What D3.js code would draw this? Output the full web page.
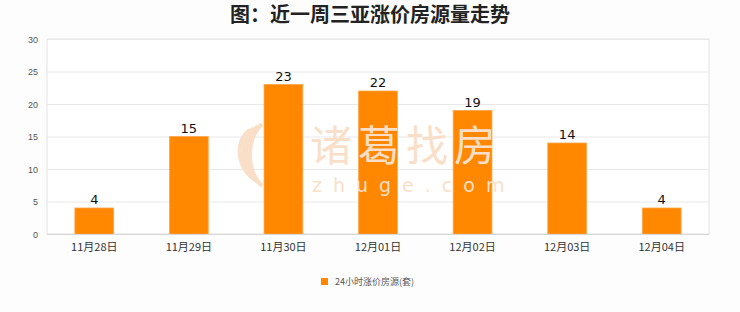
<!DOCTYPE html>
<html>
<head>
<meta charset="utf-8">
<script src="https://cdn.jsdelivr.net/npm/d3@7"></script>
<style>
  body { margin: 0; background: #fff; }
  svg { display: block; }
</style>
</head>
<body>
<svg id="chart" width="740" height="312"></svg>
<script>
// --- data ---
const dates = ["11月28日", "11月29日", "11月30日", "12月01日", "12月02日", "12月03日", "12月04日"];
const counts = [4, 15, 23, 22, 19, 14, 4];
const yTicks = [0, 5, 10, 15, 20, 25, 30];
const seriesName = "24小时涨价房源(套)";
const title = "图：近一周三亚涨价房源量走势";

const svg = d3.select("#chart");
const margin = { left: 47, right: 31, top: 39, bottom: 78 };
const W = 740, H = 312;
const plotW = W - margin.left - margin.right;
const plotH = H - margin.top - margin.bottom;
const cjk = "'Noto Sans CJK SC', 'Noto Sans', sans-serif";

svg.append("rect").attr("width", W).attr("height", H).attr("fill", "#fdfdfd");

// title
svg.append("text")
    .attr("x", 370).attr("y", 22)
    .attr("text-anchor", "middle")
    .attr("font-family", cjk)
    .attr("font-weight", "bold")
    .attr("font-size", 20)
    .attr("fill", "#222")
    .text(title);

const g = svg.append("g").attr("transform", `translate(${margin.left},${margin.top})`);

const x = d3.scaleBand().domain(dates).range([0, plotW]).paddingInner(0.59).paddingOuter(0.295);
const y = d3.scaleLinear().domain([0, 30]).range([plotH, 0]);

// plot frame
g.append("rect")
    .attr("width", plotW).attr("height", plotH)
    .attr("fill", "#fff")
    .attr("stroke", "#e3e3e3");

// gridlines
g.selectAll(".grid").data(yTicks).join("line")
    .attr("x1", 0).attr("x2", plotW)
    .attr("y1", d => y(d) + 0.5).attr("y2", d => y(d) + 0.5)
    .attr("stroke", "#e8e8e8");

// watermark (sits behind the bars)
const wm = svg.append("g").attr("fill", "#fadfc8");
wm.append("text")
    .attr("x", 310).attr("y", 161)
    .attr("font-family", cjk)
    .attr("font-size", 42)
    .attr("letter-spacing", 6)
    .text("诸葛找房");
wm.append("text")
    .attr("x", 312).attr("y", 192)
    .attr("font-family", "'DejaVu Sans', sans-serif")
    .attr("font-size", 19)
    .attr("letter-spacing", 11)
    .text("zhuge.com");
[0, 1, 2, 3].forEach(i => {
    wm.append("path")
        .attr("d", `M${262 - i * 4},${124 + i * 2} C${246 - i * 4},140 ${246 - i * 3},170 ${262 - i * 2},${186 - i * 2}`)
        .attr("fill", "none")
        .attr("stroke", "#fadfc8")
        .attr("stroke-width", 4);
});

// y axis labels
g.selectAll(".ylab").data(yTicks).join("text")
    .attr("x", -9).attr("y", d => y(d) + 3.5)
    .attr("text-anchor", "end")
    .attr("font-family", "'Liberation Sans', Arial, sans-serif")
    .attr("font-size", 9)
    .attr("fill", "#555")
    .text(d => d);

// bars
g.selectAll(".bar").data(counts).join("rect")
    .attr("x", (d, i) => x(dates[i]))
    .attr("y", d => y(d))
    .attr("width", x.bandwidth())
    .attr("height", d => plotH - y(d))
    .attr("fill", "#ff8800")
    .attr("stroke", "#ffa64d")
    .attr("stroke-width", 0.8);

// value labels
g.selectAll(".val").data(counts).join("text")
    .attr("x", (d, i) => x(dates[i]) + x.bandwidth() / 2)
    .attr("y", d => y(d) - 4)
    .attr("text-anchor", "middle")
    .attr("font-family", "'DejaVu Sans', sans-serif")
    .attr("font-size", 13)
    .attr("fill", "#111")
    .text(d => d);

// x axis
g.append("line")
    .attr("x1", 0).attr("x2", plotW)
    .attr("y1", plotH + 0.5).attr("y2", plotH + 0.5)
    .attr("stroke", "#d6d6d6");

g.selectAll(".xlab").data(dates).join("text")
    .attr("x", d => x(d) + x.bandwidth() / 2)
    .attr("y", plotH + 17)
    .attr("text-anchor", "middle")
    .attr("font-family", cjk)
    .attr("font-size", 11)
    .attr("fill", "#333")
    .text(d => d);

// legend
const leg = svg.append("g").attr("transform", "translate(321,278)");
leg.append("rect").attr("width", 7).attr("height", 7).attr("fill", "#ff8800");
leg.append("text")
    .attr("x", 14).attr("y", 7)
    .attr("font-family", cjk)
    .attr("font-size", 9)
    .attr("fill", "#555")
    .text(seriesName);
</script>
</body>
</html>
